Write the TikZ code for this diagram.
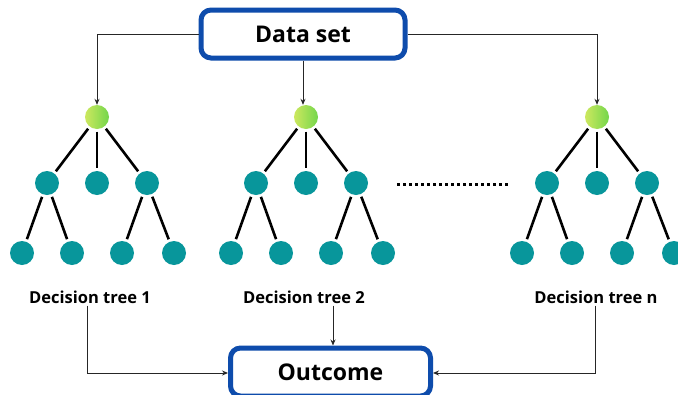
\documentclass[tikz,border=0pt]{standalone}
\usepackage{fontspec}
\setmainfont{Open Sans}
\usetikzlibrary{arrows.meta}
\definecolor{boxblue}{RGB}{14,76,172}
\definecolor{teal}{RGB}{8,150,155}
\definecolor{gleft}{RGB}{205,232,95}
\definecolor{gright}{RGB}{115,214,75}
\tikzset{
  bigbox/.style={draw=boxblue, line width=5pt, rounded corners=10pt, fill=white, font=\bfseries\fontsize{23}{26}\selectfont, inner sep=0pt},
  rootnode/.style={circle, minimum size=24pt, inner sep=0pt, left color=gleft, right color=gright, draw=none},
  leafnode/.style={circle, minimum size=24pt, inner sep=0pt, fill=teal, draw=none},
  branch/.style={line width=2.6pt, black, shorten >=2.5pt, shorten <=2.5pt},
  arr/.style={line width=0.9pt, black!85, -{Stealth[length=6pt,width=5pt]}},
  treelabel/.style={font=\bfseries\fontsize{16.5}{19}\selectfont, inner sep=2pt}
}
\newcommand{\dtree}[2]{%
  \node[rootnode] (#2r) at (#1,117) {};
  \node[leafnode] (#2a) at ({#1-50},183) {};
  \node[leafnode] (#2b) at (#1,183) {};
  \node[leafnode] (#2c) at ({#1+50},183) {};
  \node[leafnode] (#2d) at ({#1-75},253) {};
  \node[leafnode] (#2e) at ({#1-25},253) {};
  \node[leafnode] (#2f) at ({#1+25},253) {};
  \node[leafnode] (#2g) at ({#1+77},253) {};
  \draw[branch] (#2r) -- (#2a);
  \draw[branch] (#2r) -- (#2b);
  \draw[branch] (#2r) -- (#2c);
  \draw[branch] (#2a) -- (#2d);
  \draw[branch] (#2a) -- (#2e);
  \draw[branch] (#2c) -- (#2f);
  \draw[branch] (#2c) -- (#2g);
}
\begin{document}
\begin{tikzpicture}[x=1pt,y=-1pt]
\useasboundingbox (0,0) rectangle (678,394);
\fill[white] (0,0) rectangle (678,394);
\node[bigbox, minimum width=204pt, minimum height=48pt] (data) at (303,34) {Data set};
\node[bigbox, minimum width=200pt, minimum height=48pt] (out) at (330.5,372) {Outcome};
\dtree{97}{t1}
\dtree{306}{t2}
\dtree{597}{tn}
\draw[dash pattern=on 3pt off 3pt, line width=3pt] (397,184) -- (508,184);
\node[treelabel] (l1) at (90,297) {Decision tree 1};
\node[treelabel] (l2) at (304,297) {Decision tree 2};
\node[treelabel] (ln) at (596,297) {Decision tree n};
\draw[arr] (data.west) -| (t1r.north);
\draw[arr] (data.east) -| (tnr.north);
\draw[arr] (data.south) -- (data.south |- t2r.north);
\draw[arr] ([xshift=-3pt]l1.south) |- ([yshift=-1pt]out.west);
\draw[arr] ([xshift=-1pt]ln.south) |- ([yshift=-1pt]out.east);
\draw[arr] ([xshift=29pt]l2.south) -- ([xshift=29pt]l2.south |- out.north);
\end{tikzpicture}
\end{document}
